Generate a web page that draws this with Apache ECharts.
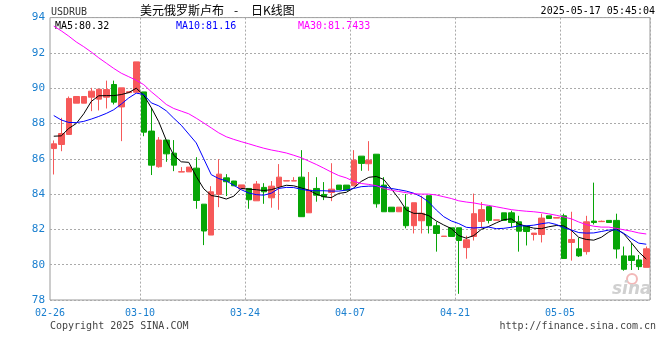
<!DOCTYPE html>
<html><head><meta charset="utf-8">
<script src="https://cdn.jsdelivr.net/npm/echarts@6/dist/echarts.min.js"></script>
<style>html,body{margin:0;padding:0;background:#fff}#c{width:660px;height:360px}</style>
</head><body><div id="c"></div>
<script>
const dates = ['02-26','02-27','02-28',
'03-01','03-02','03-03','03-04','03-05','03-06','03-07','03-08','03-09','03-10','03-11','03-12','03-13','03-14','03-15','03-16','03-17','03-18','03-19','03-20','03-21','03-22','03-23','03-24','03-25','03-26','03-27','03-28','03-29','03-30','03-31',
'04-01','04-02','04-03','04-04','04-05','04-06','04-07','04-08','04-09','04-10','04-11','04-12','04-13','04-14','04-15','04-16','04-17','04-18','04-19','04-20','04-21','04-22','04-23','04-24','04-25','04-26','04-27','04-28','04-29','04-30',
'05-01','05-02','05-03','05-04','05-05','05-06','05-07','05-08','05-09','05-10','05-11','05-12','05-13','05-14','05-15','05-16'];
const xTickDates = ['02-26','03-10','03-24','04-07','04-21','05-05'];
const yTicks = [78,80,82,84,86,88,90,92,94];
// [open, close, low, high]
const ohlc = [
[86.58,86.85,85.11,87.04],[86.81,87.43,86.43,88.32],[87.38,89.42,87.38,89.53],[89.15,89.53,89.15,89.53],[89.15,89.53,89.15,89.53],
[89.49,89.83,88.70,90.02],[89.38,89.94,88.74,89.96],[89.49,89.92,88.85,90.43],[90.21,89.21,89.08,90.43],[88.94,90.02,87.00,90.02],
[89.75,89.80,89.75,89.80],[89.77,91.49,89.77,91.49],[89.79,87.51,87.28,89.79],[87.57,85.64,85.08,88.89],[85.55,87.06,85.50,87.23],
[87.06,86.28,85.83,87.06],[86.32,85.64,85.30,87.06],[85.25,85.27,85.25,85.53],[85.26,85.53,85.26,85.53],[85.47,83.64,83.17,86.09],
[83.43,81.91,81.11,83.43],[81.68,84.13,81.68,84.45],[83.98,85.13,83.26,85.98],[84.92,84.70,83.89,85.13],[84.74,84.47,84.47,84.75],
[84.30,84.52,84.30,84.52],[84.32,83.68,83.17,84.32],[83.62,84.57,83.62,84.74],[84.38,84.13,83.45,84.62],[83.79,84.45,83.23,84.74],
[84.42,84.96,83.11,85.70],[84.74,84.76,84.74,84.76],[84.74,84.76,84.74,84.96],[84.96,82.72,82.72,86.49],[82.94,84.23,82.94,85.25],
[84.32,83.94,83.57,84.96],[83.98,83.85,83.66,84.68],[84.09,84.28,83.60,85.75],[84.51,84.26,84.26,84.51],[84.51,84.22,84.22,84.51],
[84.47,85.92,84.47,86.49],[86.15,85.74,85.32,86.15],[85.72,85.92,85.32,87.00],[86.26,83.45,83.23,86.26],[84.51,83.00,83.00,84.96],
[83.26,83.00,83.00,83.26],[83.00,83.26,83.00,83.26],[83.26,82.21,82.06,84.00],[82.21,83.51,81.77,83.51],[82.49,82.91,81.77,83.91],
[83.91,82.21,81.77,83.91],[82.21,81.77,80.74,82.43],[81.60,81.62,81.60,81.62],[82.09,81.60,81.60,82.09],[82.09,81.37,78.35,82.09],
[80.97,81.41,80.34,81.64],[81.60,82.89,81.37,84.03],[82.45,83.12,82.07,83.55],[83.29,82.51,82.34,83.29],[82.52,82.54,82.52,82.54],
[82.94,82.51,82.51,82.94],[82.94,82.39,82.11,83.06],[82.43,81.90,80.74,82.77],[82.19,81.88,81.09,82.19],[81.71,81.79,81.37,81.79],
[81.71,82.64,81.26,82.89],[82.77,82.62,82.62,82.77],[82.64,82.67,82.64,82.67],[82.77,80.35,80.35,82.89],[81.26,81.43,80.23,83.00],
[80.90,80.50,80.44,81.52],[80.74,82.43,80.57,82.77],[82.47,82.39,82.28,84.65],[82.44,82.46,82.44,82.50],[82.51,82.39,82.39,82.51],
[82.51,80.89,80.35,82.89],[80.50,79.74,79.66,81.03],[80.50,80.24,79.70,81.22],[80.27,79.89,79.70,80.55],[79.85,80.90,79.85,81.03]
];
const ma5 = [87.28,87.30,87.72,88.00,88.55,89.25,89.57,89.58,89.58,89.64,
89.75,90.00,89.60,88.90,88.10,87.05,86.20,85.83,85.80,85.00,
84.30,83.92,83.85,83.72,83.88,84.32,84.28,84.25,84.20,84.25,
84.38,84.50,84.47,84.35,84.23,84.00,83.85,83.80,84.04,84.10,
84.35,84.72,84.95,85.00,84.83,84.30,83.75,83.10,82.91,82.91,
82.78,82.48,82.25,82.05,81.65,81.50,81.65,82.00,82.17,82.37,
82.55,82.60,82.30,82.18,82.07,82.04,82.15,82.22,82.20,81.95,
81.55,81.43,81.39,81.55,81.85,82.05,81.75,81.25,80.72,80.32];
const ma10 = [88.45,88.20,88.06,88.05,88.12,88.25,88.40,88.57,88.78,89.10,
89.45,89.72,89.65,89.17,89.00,88.72,88.30,87.90,87.40,86.90,
86.00,85.10,84.88,84.75,84.50,84.25,84.06,83.97,83.94,84.05,
84.32,84.38,84.37,84.27,84.20,84.19,84.19,84.17,84.17,84.23,
84.32,84.42,84.45,84.46,84.42,84.32,84.25,84.17,84.05,83.85,
83.55,83.10,82.72,82.48,82.33,82.12,82.08,82.11,82.13,82.04,
82.06,82.12,82.20,82.20,82.24,82.32,82.38,82.28,82.10,81.97,
81.82,81.79,81.80,81.88,81.96,81.98,81.78,81.48,81.22,81.16];
const ma30 = [93.52,93.25,92.95,92.62,92.35,92.05,91.72,91.42,91.12,90.85,
90.65,90.45,90.20,89.80,89.45,89.08,88.85,88.70,88.55,88.30,
88.03,87.75,87.47,87.25,87.10,86.97,86.85,86.72,86.60,86.50,
86.42,86.33,86.20,86.06,85.87,85.68,85.47,85.25,85.05,84.92,
84.72,84.60,84.55,84.48,84.32,84.22,84.15,84.08,84.02,84.00,
84.00,83.95,83.85,83.75,83.62,83.55,83.50,83.42,83.36,83.28,
83.20,83.12,83.07,83.03,83.00,82.95,82.88,82.80,82.70,82.60,
82.42,82.27,82.18,82.13,82.13,82.06,81.98,81.90,81.80,81.74];

const mono = '"DejaVu Sans Mono", monospace';
const blueTxt = '#1a7fcf';
const chart = echarts.init(document.getElementById('c'), null, {renderer:'canvas'});
const band = 600 / dates.length;
chart.setOption({
  animation: false,
  backgroundColor: '#fff',
  grid: {left: 50, right: 10, top: 17.6, height: 282.4, show: true, borderColor: '#9a9a9a', borderWidth: 1},
  xAxis: {
    type: 'category', data: dates, boundaryGap: true,
    axisLine: {show: false}, axisTick: {show: false},
    axisLabel: {
      interval: (i, v) => xTickDates.includes(v),
      color: blueTxt, fontFamily: mono, fontSize: 10, margin: 8,
      padding: [0, band, 0, 0]
    },
    splitLine: {show: true, interval: (i, v) => xTickDates.includes(v) && i > 0,
      lineStyle: {color: '#aaa', type: [2, 2], width: 1}}
  },
  yAxis: {
    type: 'value', min: 78, max: 94, interval: 2, scale: true,
    axisLine: {show: false}, axisTick: {show: false},
    axisLabel: {color: blueTxt, fontFamily: mono, fontSize: 11, margin: 5,
      formatter: v => yTicks.includes(v) ? String(v) : ''},
    splitLine: {show: true, lineStyle: {color: '#aaa', type: [2, 2], width: 1}}
  },
  series: [
    {type: 'candlestick', data: ohlc, barWidth: 6,
      itemStyle: {color: '#f65959', color0: '#06a506', borderColor: '#f65959', borderColor0: '#06a506', borderWidth: 1}},
    {type: 'line', data: ma5, symbol: 'none', lineStyle: {color: '#000', width: 1}},
    {type: 'line', data: ma10, symbol: 'none', lineStyle: {color: '#0000ff', width: 1}},
    {type: 'line', data: ma30, symbol: 'none', lineStyle: {color: '#ff00ff', width: 1}}
  ],
  graphic: [
    {type: 'text', left: 51, top: 7, style: {text: 'USDRUB', font: '10px ' + mono, fill: '#333'}},
    {type: 'text', left: 140, top: 4, style: {text: '美元俄罗斯卢布', font: '12px "Noto Sans CJK SC"', fill: '#000'}},
    {type: 'text', left: 234, top: 4, style: {text: '-', font: '12px "Noto Sans CJK SC"', fill: '#000'}},
    {type: 'text', left: 251, top: 4, style: {text: '日K线图', font: '12px "Noto Sans CJK SC"', fill: '#000'}},
    {type: 'text', right: 5, top: 6, style: {text: '2025-05-17 05:45:04', font: '10px ' + mono, fill: '#000'}},
    {type: 'text', left: 55, top: 21, style: {text: 'MA5:80.32', font: '10px ' + mono, fill: '#000'}},
    {type: 'text', left: 176, top: 21, style: {text: 'MA10:81.16', font: '10px ' + mono, fill: '#0000ff'}},
    {type: 'text', left: 298, top: 21, style: {text: 'MA30:81.7433', font: '10px ' + mono, fill: '#ff00ff'}},
    {type: 'text', left: 50, top: 321, style: {text: 'Copyright 2025 SINA.COM', font: '10px ' + mono, fill: '#444'}},
    {type: 'text', right: 4, top: 321, style: {text: 'http://finance.sina.com.cn', font: '10px ' + mono, fill: '#444'}},
    {type: 'circle', shape: {cx: 632, cy: 279, r: 5}, style: {fill: 'none', stroke: '#f2b8b8', lineWidth: 2}, z: 0},
    {type: 'text', left: 612, top: 281, style: {text: 'sina', font: 'italic bold 17px "DejaVu Sans"', fill: '#d0d0d0'}, z: 0}
  ]
});
</script></body></html>
